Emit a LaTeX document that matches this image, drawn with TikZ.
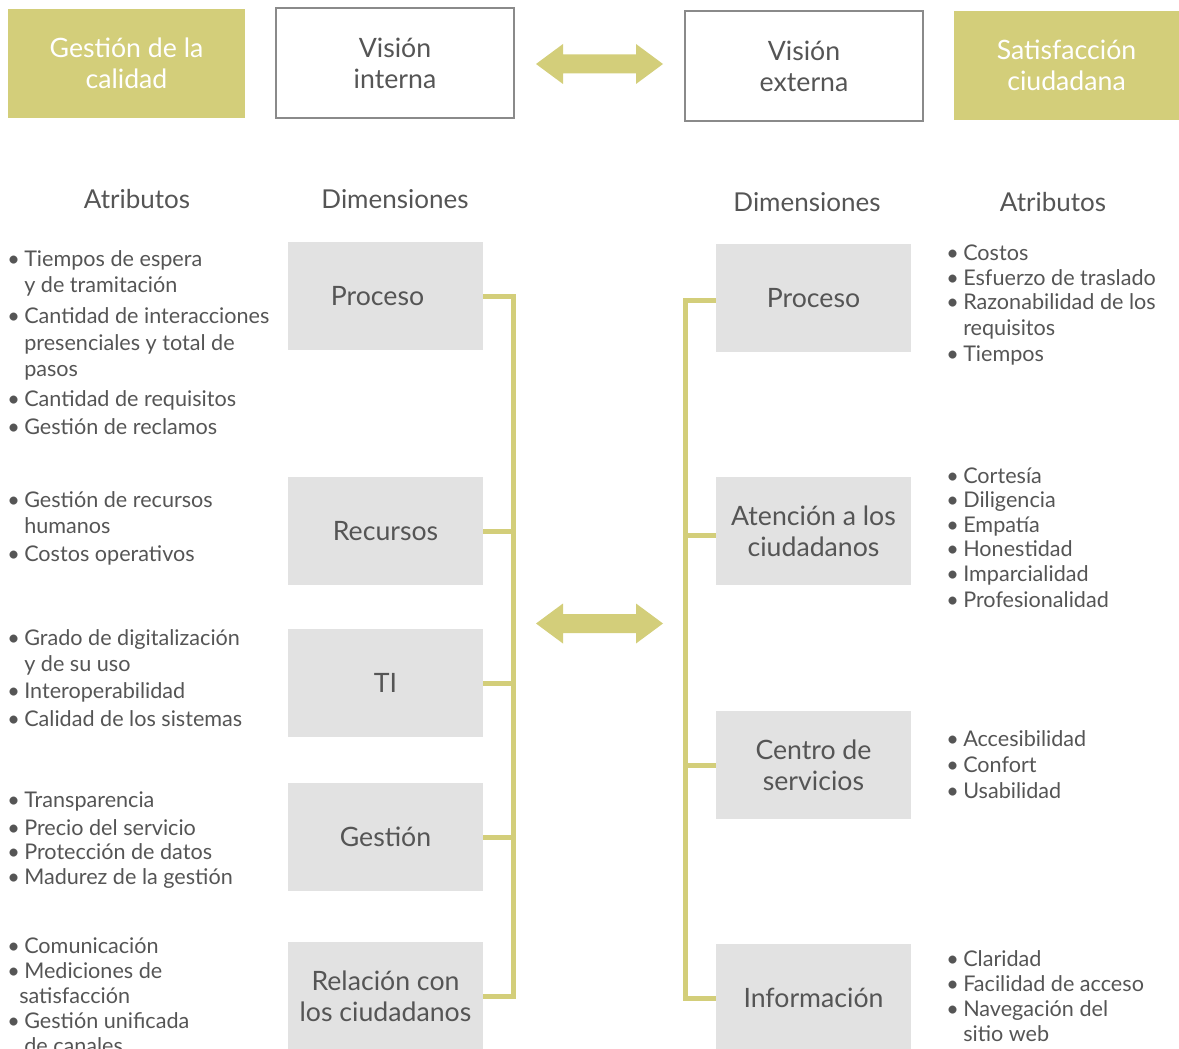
\documentclass[tikz,border=0pt]{standalone}
\usepackage{fontspec}
\setmainfont{Lato}
\definecolor{olivec}{HTML}{D3CE7A}
\definecolor{boxgray}{HTML}{E2E2E2}
\definecolor{txt}{HTML}{555555}
\definecolor{bordc}{HTML}{8A8A8A}
\tikzset{
  filledbox/.style={fill=olivec, draw=none, text=white, inner sep=0pt, align=center,
    font=\fontsize{20}{23.25}\selectfont},
  outlinebox/.style={fill=white, draw=bordc, line width=0.8pt, text=txt, inner sep=0pt, align=center,
    font=\fontsize{20}{23.25}\selectfont},
  dimbox/.style={fill=boxgray, draw=none, text=txt, inner sep=0pt, align=center,
    minimum width=195*0.75pt, minimum height=108*0.75pt,
    font=\fontsize{20}{23.25}\selectfont},
  header/.style={text=txt, font=\fontsize{19.5}{22}\selectfont, inner sep=0pt},
  attr/.style={text=txt, font=\fontsize{16.2}{19}\selectfont, anchor=mid west, inner sep=0pt, yshift=-3pt},
  conn/.style={draw=olivec, line width=3.75pt},
  bigarrow/.style={fill=olivec, draw=none},
}
\newcommand\bul[3]{\node[attr] at (#1,#2) {\textbullet}; \node[attr] at (#1+17,#2) {#3};}
\newcommand\cont[3]{\node[attr] at (#1,#2) {#3};}
\begin{document}
\begin{tikzpicture}[x=0.75pt,y=-0.75pt]
\useasboundingbox (0,0) rectangle (1179,1049);

% top boxes
\node[filledbox, minimum width=237*0.75pt, minimum height=109*0.75pt] (gc) at (126.5,63.5) {Gestión de la\\calidad};
\node[outlinebox, minimum width=238*0.75pt, minimum height=110*0.75pt] (vi) at (395,63) {Visión\\interna};
\node[outlinebox, minimum width=238*0.75pt, minimum height=110*0.75pt] (ve) at (804,66) {Visión\\externa};
\node[filledbox, minimum width=225*0.75pt, minimum height=109*0.75pt] (sc) at (1066.5,65.5) {Satisfacción\\ciudadana};

% double arrows
\fill[bigarrow] (536,64) -- (563,44) -- (563,54.5) -- (636,54.5) -- (636,44) -- (663,64) -- (636,84) -- (636,73.5) -- (563,73.5) -- (563,84) -- cycle;
\fill[bigarrow] (536,623.5) -- (563,603.5) -- (563,614) -- (636,614) -- (636,603.5) -- (663,623.5) -- (636,643.5) -- (636,633) -- (563,633) -- (563,643.5) -- cycle;

% headers
\node[header] (hal) at (137,199) {Atributos};
\node[header] (hdl) at (395,199) {Dimensiones};
\node[header] (hdr) at (807,202) {Dimensiones};
\node[header] (har) at (1053,202) {Atributos};

% left dimension boxes
\node[dimbox] (lp) at (385.5,296) {\hspace*{-12pt}Proceso};
\node[dimbox] (lr) at (385.5,531) {Recursos};
\node[dimbox] (lt) at (385.5,683) {TI};
\node[dimbox] (lg) at (385.5,837) {Gestión};
\node[dimbox] (lc) at (385.5,996) {Relación con\\los ciudadanos};

% right dimension boxes
\node[dimbox] (rp) at (813.5,298) {Proceso};
\node[dimbox] (ra) at (813.5,531) {Atención a los\\ciudadanos};
\node[dimbox] (rc) at (813.5,765) {Centro de\\servicios};
\node[dimbox] (ri) at (813.5,998) {Información};

% left bracket
\coordinate (ltop) at (513.5,296);
\coordinate (lbot) at (513.5,996);
\draw[conn, line join=miter] (lp.east) -- (ltop) -- (lbot) -- (lc.east);
\draw[conn] (lr.east) -- (lr.east -| ltop);
\draw[conn] (lt.east) -- (lt.east -| ltop);
\draw[conn] (lg.east) -- (lg.east -| ltop);

% right bracket
\coordinate (rtop) at (685.5,300);
\coordinate (rbot) at (685.5,998);
\draw[conn, line join=miter] ([yshift=-1.5pt]rp.west) -- (rtop) -- (rbot) -- (ri.west);
\draw[conn] ([yshift=-3pt]ra.west) -- ([yshift=-3pt]ra.west -| rtop);
\draw[conn] (rc.west) -- (rc.west -| rtop);

% left attributes
\bul{7}{259}{Tiempos de espera}
\cont{24}{285}{y de tramitación}
\bul{7}{316}{Cantidad de interacciones}
\cont{24}{343}{presenciales y total de}
\cont{24}{369}{pasos}
\bul{7}{399}{Cantidad de requisitos}
\bul{7}{427}{Gestión de reclamos}

\bul{7}{500}{Gestión de recursos}
\cont{24}{526}{humanos}
\bul{7}{554}{Costos operativos}

\bul{7}{638}{Grado de digitalización}
\cont{24}{664}{y de su uso}
\bul{7}{691}{Interoperabilidad}
\bul{7}{719}{Calidad de los sistemas}

\bul{7}{800}{Transparencia}
\bul{7}{828}{Precio del servicio}
\bul{7}{852}{Protección de datos}
\bul{7}{877}{Madurez de la gestión}

\bul{7}{946}{Comunicación}
\bul{7}{971}{Mediciones de}
\cont{19}{996}{satisfacción}
\bul{7}{1021}{Gestión unificada}
\cont{24}{1046}{de canales}

% right attributes
\bul{946}{253}{Costos}
\bul{946}{278}{Esfuerzo de traslado}
\bul{946}{302}{Razonabilidad de los}
\cont{963}{328}{requisitos}
\bul{946}{354}{Tiempos}

\bul{946}{476}{Cortesía}
\bul{946}{500}{Diligencia}
\bul{946}{525}{Empatía}
\bul{946}{549}{Honestidad}
\bul{946}{574}{Imparcialidad}
\bul{946}{600}{Profesionalidad}

\bul{946}{739}{Accesibilidad}
\bul{946}{765}{Confort}
\bul{946}{791}{Usabilidad}

\bul{946}{959}{Claridad}
\bul{946}{984}{Facilidad de acceso}
\bul{946}{1009}{Navegación del}
\cont{963}{1034}{sitio web}
\end{tikzpicture}
\end{document}
